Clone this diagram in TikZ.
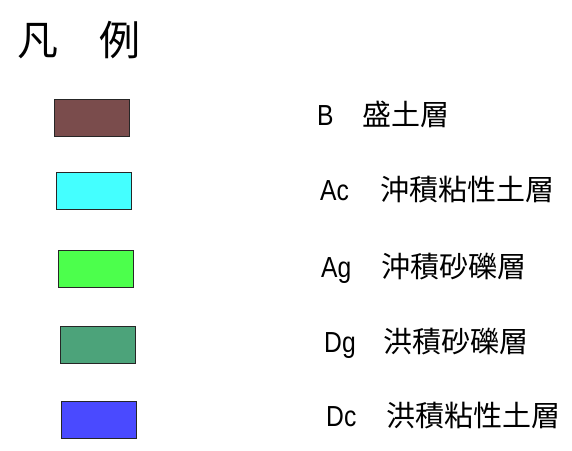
\documentclass[tikz,border=0pt]{standalone}
\usepackage{fontspec}
\newfontfamily\cjk{Noto Sans CJK JP}
\newfontfamily\latn[FakeStretch=0.85]{Liberation Sans}
\definecolor{cB}{HTML}{7A4C4C}
\definecolor{cAc}{HTML}{44FFFF}
\definecolor{cAg}{HTML}{4CFF4C}
\definecolor{cDg}{HTML}{4CA37A}
\definecolor{cDc}{HTML}{4A4AFF}
\begin{document}
\begin{tikzpicture}[x=1pt,y=-1pt,
  swatch/.style={draw=black!85, line width=0.9pt, minimum width=75pt, minimum height=37pt, inner sep=0pt},
  labcode/.style={anchor=base west, inner sep=0pt, font=\latn\fontsize{29}{29}\selectfont},
  labname/.style={anchor=base west, inner sep=0pt, font=\cjk\fontsize{29}{29}\selectfont},
  titletext/.style={anchor=base west, inner sep=0pt, font=\cjk\fontsize{41}{41}\selectfont}]
\useasboundingbox (0,0) rectangle (572,450);
\node[titletext] (title) at (17,55) {凡　例};
% B
\node[swatch, fill=cB] (sB) at (91.5,117.5) {};
\node[labcode] (kB) at (317,125) {B};
\node[labname] (nB) at (362,125) {盛土層};
% Ac
\node[swatch, fill=cAc] (sAc) at (93.5,191) {};
\node[labcode] (kAc) at (320,200) {Ac};
\node[labname] (nAc) at (380,200) {沖積粘性土層};
% Ag
\node[swatch, fill=cAg] (sAg) at (95.5,268.5) {};
\node[labcode] (kAg) at (321,277) {Ag};
\node[labname] (nAg) at (381,277) {沖積砂礫層};
% Dg
\node[swatch, fill=cDg] (sDg) at (97.5,344.5) {};
\node[labcode] (kDg) at (324,352) {Dg};
\node[labname] (nDg) at (383,352) {洪積砂礫層};
% Dc
\node[swatch, fill=cDc] (sDc) at (99,419.5) {};
\node[labcode] (kDc) at (326,426) {Dc};
\node[labname] (nDc) at (386,426) {洪積粘性土層};
\end{tikzpicture}
\end{document}
